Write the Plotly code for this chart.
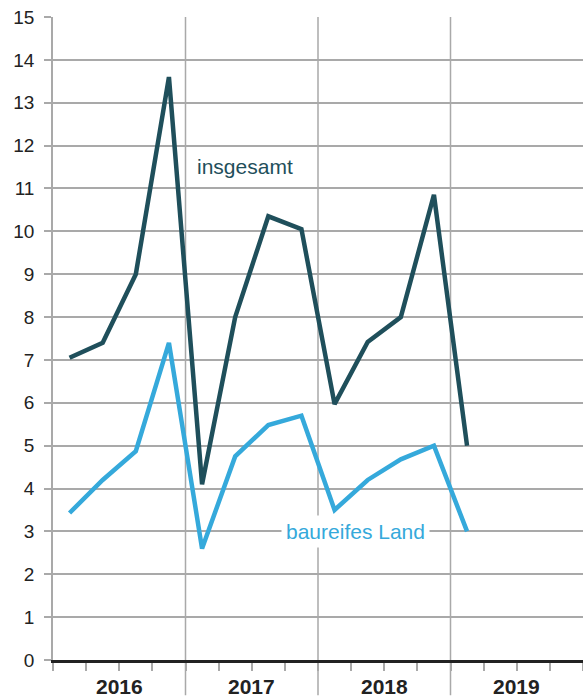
import plotly.graph_objects as go

quarters = ["2016 Q1", "2016 Q2", "2016 Q3", "2016 Q4",
            "2017 Q1", "2017 Q2", "2017 Q3", "2017 Q4",
            "2018 Q1", "2018 Q2", "2018 Q3", "2018 Q4",
            "2019 Q1"]
insgesamt = [7.05, 7.4, 9.0, 13.6, 4.1, 8.0, 10.35, 10.05, 5.97, 7.42, 8.0, 10.85, 5.0]
baureifes_land = [3.43, 4.2, 4.87, 7.4, 2.6, 4.75, 5.48, 5.7, 3.5, 4.2, 4.68, 5.0, 3.0]
years = ["2016", "2017", "2018", "2019"]
y_ticks = list(range(0, 16))

x_pos = [i + 0.5 for i in range(len(quarters))]

DARK = "#1f4f5b"
LIGHT = "#35a9db"
GRID = "#a9a9a9"
FONT = "Liberation Sans, Arial, sans-serif"

fig = go.Figure()
fig.add_trace(go.Scatter(x=x_pos, y=insgesamt, mode="lines", name="insgesamt",
                         line=dict(color=DARK, width=4.5), hoverinfo="skip"))
fig.add_trace(go.Scatter(x=x_pos, y=baureifes_land, mode="lines", name="baureifes Land",
                         line=dict(color=LIGHT, width=4.5), hoverinfo="skip"))

shapes = []
for k in range(1, len(years)):
    shapes.append(dict(type="line", xref="x", yref="paper", x0=4 * k, x1=4 * k,
                       y0=-0.055, y1=1, line=dict(color=GRID, width=1.5), layer="below"))

annotations = []
for k, yr in enumerate(years):
    annotations.append(dict(x=4 * k + 2, y=-0.041, xref="x", yref="paper", text=yr,
                            showarrow=False, yanchor="middle",
                            font=dict(family=FONT, size=21, color="#222222", weight="bold")))
annotations.append(dict(x=5.79, y=11.52, xref="x", yref="y", text="insgesamt", showarrow=False,
                        font=dict(family=FONT, size=21, color=DARK)))
annotations.append(dict(x=9.13, y=3.0, xref="x", yref="y", text="baureifes Land", showarrow=False,
                        bgcolor="white", borderpad=4,
                        font=dict(family=FONT, size=21, color=LIGHT)))

fig.update_layout(
    width=583, height=700,
    margin=dict(l=53, r=0, t=17, b=40),
    paper_bgcolor="white", plot_bgcolor="white",
    showlegend=False,
    shapes=shapes,
    annotations=annotations,
    xaxis=dict(range=[0, 16], tickvals=list(range(0, 17)), showticklabels=False,
               ticks="outside", ticklen=8, tickwidth=1.5, tickcolor=GRID,
               showgrid=False, zeroline=False, automargin=False,
               showline=True, linecolor="#222222", linewidth=2.5),
    yaxis=dict(range=[0, 15], tickvals=y_ticks, ticks="outside", ticklen=7, tickwidth=1.5,
               tickcolor=GRID, showgrid=True, gridcolor=GRID, gridwidth=1.5,
               zeroline=False, showline=True, linecolor=GRID, linewidth=1.5, automargin=False,
               tickfont=dict(family=FONT, size=19, color="#222222"), ticklabelstandoff=6),
)

fig.write_html("out.html", config={"displayModeBar": False},
               post_script="document.body.style.margin='0';document.body.style.overflow='hidden';")
